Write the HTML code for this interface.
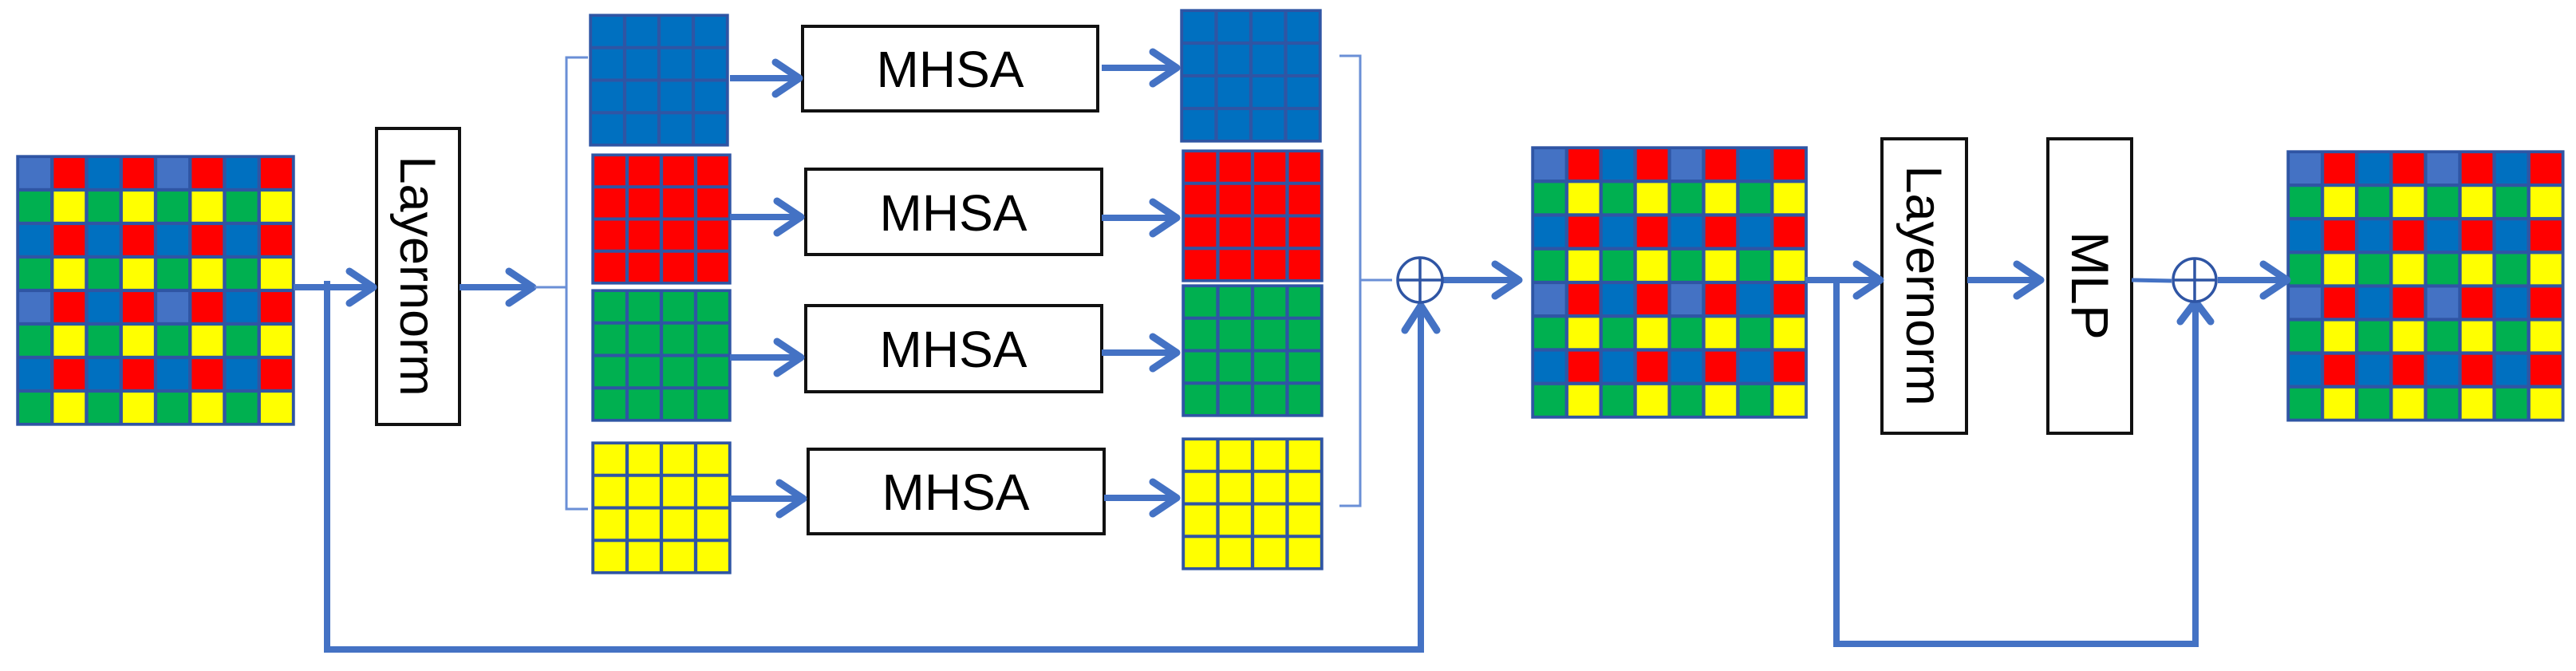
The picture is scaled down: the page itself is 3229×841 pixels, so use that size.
<!DOCTYPE html>
<html><head><meta charset="utf-8"><style>html,body{margin:0;padding:0;background:#fff;}svg{display:block;}</style></head>
<body>
<svg width="3229" height="841" viewBox="0 0 3229 841" xmlns="http://www.w3.org/2000/svg">
<defs>
<pattern id="mix" width="40" height="40" patternUnits="userSpaceOnUse">
<g stroke="#2F55A4" stroke-width="1">
<rect x="0" y="0" width="10" height="10" fill="#4472C4"/><rect x="10" y="0" width="10" height="10" fill="#FF0000"/><rect x="20" y="0" width="10" height="10" fill="#0070C0"/><rect x="30" y="0" width="10" height="10" fill="#FF0000"/>
<rect x="0" y="10" width="10" height="10" fill="#00B050"/><rect x="10" y="10" width="10" height="10" fill="#FFFF00"/><rect x="20" y="10" width="10" height="10" fill="#00B050"/><rect x="30" y="10" width="10" height="10" fill="#FFFF00"/>
<rect x="0" y="20" width="10" height="10" fill="#0070C0"/><rect x="10" y="20" width="10" height="10" fill="#FF0000"/><rect x="20" y="20" width="10" height="10" fill="#0070C0"/><rect x="30" y="20" width="10" height="10" fill="#FF0000"/>
<rect x="0" y="30" width="10" height="10" fill="#00B050"/><rect x="10" y="30" width="10" height="10" fill="#FFFF00"/><rect x="20" y="30" width="10" height="10" fill="#00B050"/><rect x="30" y="30" width="10" height="10" fill="#FFFF00"/>
</g></pattern>
<pattern id="pb" width="10" height="10" patternUnits="userSpaceOnUse"><rect width="10" height="10" fill="#0070C0" stroke="#2F55A4" stroke-width="1"/></pattern>
<pattern id="pr" width="10" height="10" patternUnits="userSpaceOnUse"><rect width="10" height="10" fill="#FF0000" stroke="#2F55A4" stroke-width="1"/></pattern>
<pattern id="pg" width="10" height="10" patternUnits="userSpaceOnUse"><rect width="10" height="10" fill="#00B050" stroke="#2F55A4" stroke-width="1"/></pattern>
<pattern id="py" width="10" height="10" patternUnits="userSpaceOnUse"><rect width="10" height="10" fill="#FFFF00" stroke="#2F55A4" stroke-width="1"/></pattern>
</defs>

<!-- big grids (80x80 units) -->
<g transform="translate(22,196) scale(4.325,4.2)"><rect width="80" height="80" fill="url(#mix)" stroke="#2F55A4" stroke-width="0.8"/></g>
<g transform="translate(1921,185) scale(4.29,4.225)"><rect width="80" height="80" fill="url(#mix)" stroke="#2F55A4" stroke-width="0.8"/></g>
<g transform="translate(2868,190) scale(4.31,4.21)"><rect width="80" height="80" fill="url(#mix)" stroke="#2F55A4" stroke-width="0.8"/></g>

<!-- small grids (40x40 units) -->
<g transform="translate(740,19) scale(4.3,4.075)"><rect width="40" height="40" fill="url(#pb)" stroke="#2F55A4" stroke-width="0.8"/></g>
<g transform="translate(743,194) scale(4.3,4.025)"><rect width="40" height="40" fill="url(#pr)" stroke="#2F55A4" stroke-width="0.8"/></g>
<g transform="translate(743,364) scale(4.3,4.075)"><rect width="40" height="40" fill="url(#pg)" stroke="#2F55A4" stroke-width="0.8"/></g>
<g transform="translate(743,555) scale(4.3,4.075)"><rect width="40" height="40" fill="url(#py)" stroke="#2F55A4" stroke-width="0.8"/></g>

<g transform="translate(1481,13) scale(4.35,4.1)"><rect width="40" height="40" fill="url(#pb)" stroke="#2F55A4" stroke-width="0.8"/></g>
<g transform="translate(1483,189) scale(4.35,4.075)"><rect width="40" height="40" fill="url(#pr)" stroke="#2F55A4" stroke-width="0.8"/></g>
<g transform="translate(1483,358) scale(4.35,4.075)"><rect width="40" height="40" fill="url(#pg)" stroke="#2F55A4" stroke-width="0.8"/></g>
<g transform="translate(1483,550) scale(4.35,4.075)"><rect width="40" height="40" fill="url(#py)" stroke="#2F55A4" stroke-width="0.8"/></g>

<!-- boxes -->
<g fill="#fff" stroke="#111" stroke-width="4">
<rect x="472" y="161" width="104" height="371"/>
<rect x="1006" y="33" width="370" height="106"/>
<rect x="1010" y="212" width="371" height="107"/>
<rect x="1010" y="383" width="371" height="108"/>
<rect x="1013" y="563" width="371" height="106"/>
<rect x="2359" y="174" width="106" height="369"/>
<rect x="2567" y="174" width="105" height="369"/>
</g>
<g font-family="Liberation Sans, Arial, sans-serif" font-size="64" fill="#000" text-anchor="middle">
<text x="1191" y="109">MHSA</text>
<text x="1195" y="289">MHSA</text>
<text x="1195" y="460">MHSA</text>
<text x="1198" y="639">MHSA</text>
<text transform="translate(502,346) rotate(90)" font-size="63">Layernorm</text>
<text transform="translate(2390,358) rotate(90)" font-size="63">Layernorm</text>
<text transform="translate(2597,358) rotate(90)" font-size="66">MLP</text>
</g>

<!-- connectors -->
<g stroke="#4472C4" stroke-width="8" fill="none" stroke-linejoin="miter">
<line x1="368" y1="360" x2="466" y2="360"/>
<polyline points="410,352 410,814 1781,814 1781,386"/>
<line x1="576" y1="360" x2="665" y2="360"/>
<line x1="915" y1="98" x2="1000" y2="98"/>
<line x1="915" y1="272" x2="1004" y2="272"/>
<line x1="915" y1="448" x2="1004" y2="448"/>
<line x1="915" y1="625" x2="1007" y2="625"/>
<line x1="1381" y1="85" x2="1473" y2="85"/>
<line x1="1381" y1="273" x2="1473" y2="273"/>
<line x1="1381" y1="442" x2="1473" y2="442"/>
<line x1="1384" y1="624" x2="1473" y2="624"/>
<line x1="1808" y1="351" x2="1902" y2="351"/>
<line x1="2263" y1="351" x2="2355" y2="351"/>
<polyline points="2302,351 2302,807 2752,807 2752,382"/>
<line x1="2466" y1="351" x2="2555" y2="351"/>
<line x1="2780" y1="351" x2="2865" y2="351"/>
<line x1="2672" y1="351" x2="2722" y2="352" stroke-width="5"/>
</g>
<!-- arrowheads -->
<g stroke="#4472C4" stroke-width="9" fill="none" stroke-linecap="round" stroke-linejoin="round">
<polyline points="438,340 468,360 438,380"/>
<polyline points="638,340 668,360 638,380"/>
<polyline points="972,78 1002,98 972,118"/>
<polyline points="974,252 1004,272 974,292"/>
<polyline points="974,428 1004,448 974,468"/>
<polyline points="977,605 1007,625 977,645"/>
<polyline points="1445,65 1475,85 1445,105"/>
<polyline points="1445,253 1475,273 1445,293"/>
<polyline points="1445,422 1475,442 1445,462"/>
<polyline points="1445,604 1475,624 1445,644"/>
<polyline points="1874,331 1904,351 1874,371"/>
<polyline points="1761,414 1781,383 1801,414"/>
<polyline points="2327,331 2357,351 2327,371"/>
<polyline points="2528,331 2558,351 2528,371"/>
<polyline points="2837,331 2867,351 2837,371"/>
<polyline points="2733,403 2752,378 2771,403"/>
</g>
<!-- brackets -->
<g stroke="#6A8FD6" stroke-width="3" fill="none">
<polyline points="737,72 710,72 710,638 737,638"/>
<line x1="670" y1="360" x2="710" y2="360"/>
<polyline points="1679,70 1705,70 1705,634 1679,634"/>
<line x1="1705" y1="351" x2="1745" y2="351"/>
</g>
<!-- plus circles -->
<g stroke="#2F55A4" stroke-width="3.5" fill="#fff">
<circle cx="1780" cy="351" r="28"/>
<circle cx="2751" cy="351" r="27"/>
</g>
<g stroke="#2F55A4" stroke-width="3.5">
<line x1="1752" y1="351" x2="1808" y2="351"/><line x1="1780" y1="323" x2="1780" y2="379"/>
<line x1="2724" y1="351" x2="2778" y2="351"/><line x1="2751" y1="324" x2="2751" y2="378"/>
</g>
</svg>
</body></html>
